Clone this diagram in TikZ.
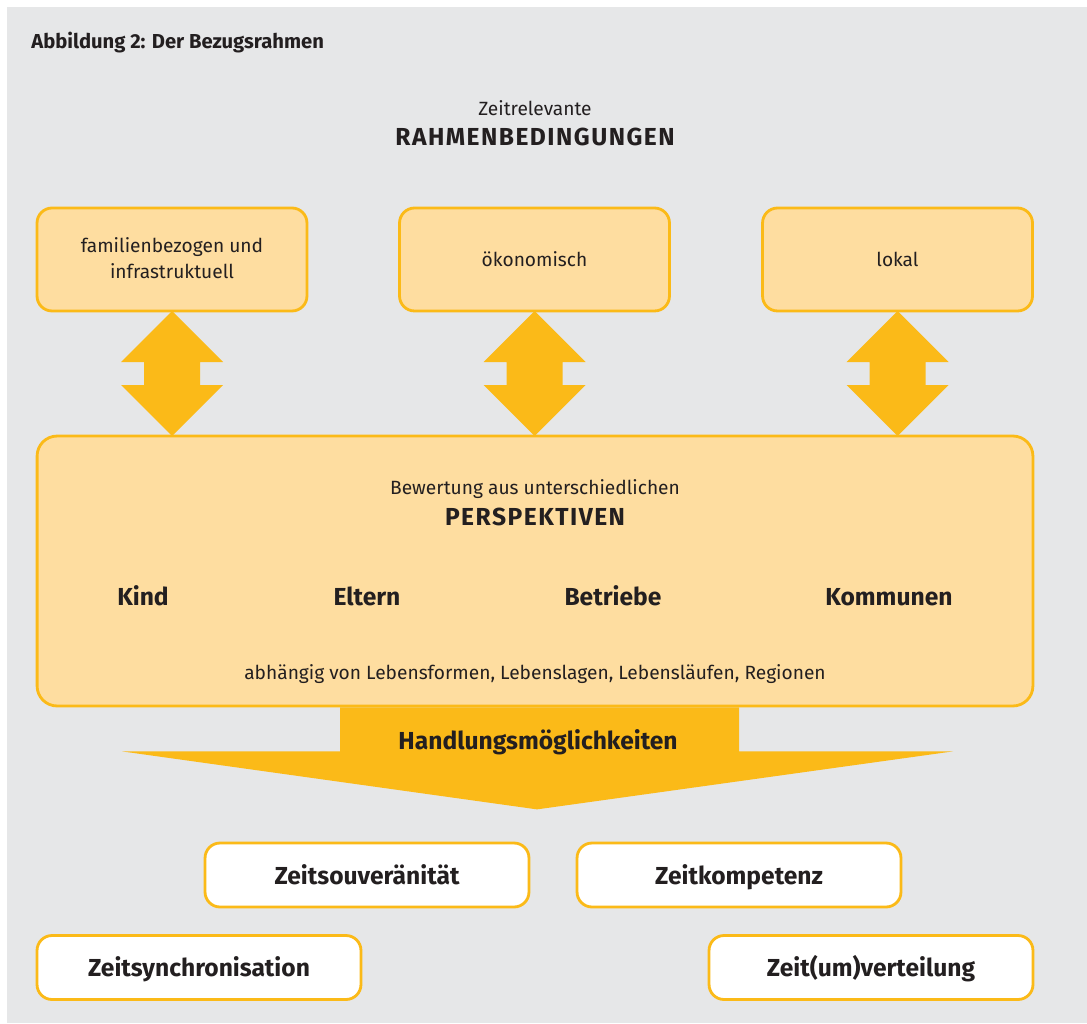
\documentclass[tikz,border=0pt]{standalone}
\usepackage{fontspec}
\setmainfont{Fira Sans}
\definecolor{bggrey}{HTML}{E6E7E8}
\definecolor{boxfill}{HTML}{FEDDA0}
\definecolor{gold}{HTML}{FBBA18}
\definecolor{txt}{HTML}{231F20}

\begin{document}
\begin{tikzpicture}[x=0.02cm, y=-0.02cm, text=txt,
  topbox/.style={draw=gold, line width=1.6pt, fill=boxfill, rounded corners=0.3cm,
    minimum width=5.4cm, minimum height=2.06cm},
  bigbox/.style={draw=gold, line width=1.6pt, fill=boxfill, rounded corners=0.4cm,
    minimum width=19.92cm, minimum height=5.4cm},
  resultbox/.style={draw=gold, line width=1.6pt, fill=white, rounded corners=0.3cm,
    minimum width=6.48cm, minimum height=1.28cm},
  plain/.style={anchor=base, inner sep=0pt, font=\fontsize{10.9}{14}\selectfont},
  heading/.style={anchor=base, inner sep=0pt, font=\fontsize{14}{16}\selectfont\bfseries},
  capsheading/.style={anchor=base, inner sep=0pt,
    font=\fontsize{14}{16}\selectfont\bfseries\addfontfeature{LetterSpace=6}},
  arrowfill/.style={fill=gold}]
  \useasboundingbox (0,0) rectangle (1087,1023);
  \fill[bggrey] (7,7) rectangle (1087,1023);
  \node[anchor=base west, inner sep=0pt, font=\fontsize{11.5}{13}\selectfont\bfseries] (title) at (31,49) {Abbildung 2: Der Bezugsrahmen};
  \node[plain] (zeitrel) at (535,116) {Zeitrelevante};
  \node[capsheading] (rahmen) at (535,146) {RAHMENBEDINGUNGEN};
  \node[bigbox] (persp) at (535,571) {};
  \foreach \x in {172, 534.5, 897.5} {
    \begin{scope}[shift={(\x,311)}]
      \fill[arrowfill] (0,0) -- (51,51) -- (28,51) -- (28,74) -- (51,74) -- (0,125)
        -- (-51,74) -- (-28,74) -- (-28,51) -- (-51,51) -- cycle;
    \end{scope}
  }
  \node[topbox] (fam) at (172,259.5) {};
  \node[topbox] (oek) at (534.5,259.5) {};
  \node[topbox] (lok) at (897.5,259.5) {};
  \node[plain] (famtxt) at (172,253) {familienbezogen und};
  \node[plain] (famtxt2) at (172,279) {infrastruktuell};
  \node[plain] (oektxt) at (534.5,267) {ökonomisch};
  \node[plain] (loktxt) at (897.5,267) {lokal};
  \node[plain] (bewert) at (535,494) {Bewertung aus unterschiedlichen};
  \node[capsheading] (perspk) at (535,525) {PERSPEKTIVEN};
  \node[heading] (kind) at (143,605) {Kind};
  \node[heading] (eltern) at (367,605) {Eltern};
  \node[heading] (betr) at (613,605) {Betriebe};
  \node[heading] (komm) at (889,605) {Kommunen};
  \node[plain] (abh) at (535,679) {abhängig von Lebensformen, Lebenslagen, Lebensläufen, Regionen};
  \begin{scope}[shift={(persp.south)}]
    \fill[arrowfill] (-195,0) -- (204,0) -- (204,44) -- (418,44) -- (2,102)
      -- (-413,44) -- (-195,44) -- cycle;
  \end{scope}
  \node[heading] (handl) at (538,749) {Handlungsmöglichkeiten};
  \node[resultbox] (souv) at (367,875) {};
  \node[resultbox] (komp) at (739,875) {};
  \node[resultbox] (sync) at (199,967.5) {};
  \node[resultbox] (vert) at (871,967.5) {};
  \node[heading] (souvtxt) at (367,884) {Zeitsouveränität};
  \node[heading] (komptxt) at (739,884) {Zeitkompetenz};
  \node[heading] (synctxt) at (199,976) {Zeitsynchronisation};
  \node[heading] (verttxt) at (871,976) {Zeit(um)verteilung};
\end{tikzpicture}
\end{document}
